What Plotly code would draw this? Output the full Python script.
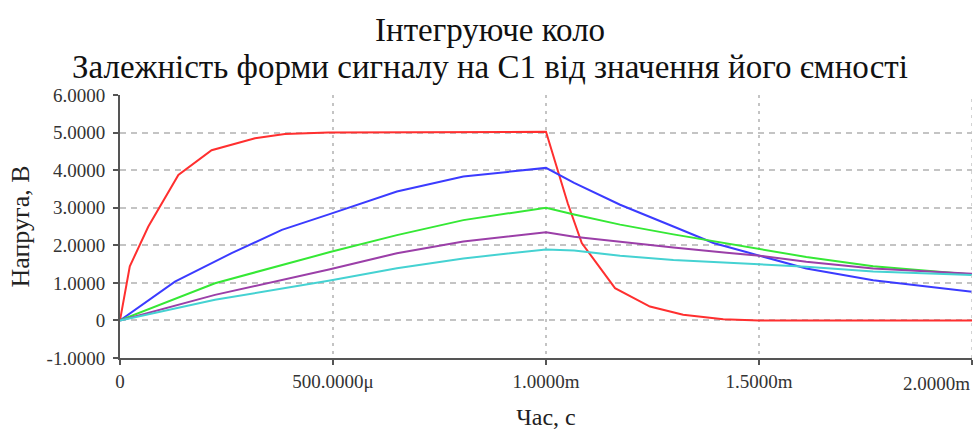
import plotly.graph_objects as go

# Time points (ms) and capacitor voltage (V) for each capacitance value
t_red = [0, 0.023, 0.0665, 0.137, 0.215, 0.317, 0.387, 0.489, 1.0, 1.02, 1.051, 1.084, 1.162, 1.244, 1.322, 1.416, 1.5, 2.0]
v_red = [0, 1.44, 2.5, 3.87, 4.53, 4.85, 4.96, 5.0, 5.02, 4.27, 3.12, 2.06, 0.86, 0.37, 0.15, 0.03, 0.0, 0.0]

t_blue = [0, 0.129, 0.262, 0.38, 0.492, 0.65, 0.806, 1.0, 1.066, 1.174, 1.299, 1.393, 1.47, 1.611, 1.768, 2.0]
v_blue = [0, 1.03, 1.79, 2.41, 2.83, 3.43, 3.83, 4.06, 3.66, 3.08, 2.5, 2.06, 1.82, 1.38, 1.07, 0.76]

t_slow = [0, 0.223, 0.493, 0.65, 0.806, 1.0, 1.066, 1.174, 1.299, 1.424, 1.502, 1.611, 1.768, 2.0]
v_green = [0, 0.99, 1.82, 2.27, 2.67, 3.0, 2.82, 2.55, 2.29, 2.05, 1.91, 1.69, 1.44, 1.22]
v_purple = [0, 0.68, 1.36, 1.79, 2.1, 2.35, 2.23, 2.09, 1.94, 1.8, 1.72, 1.56, 1.38, 1.24]
v_cyan = [0, 0.55, 1.06, 1.39, 1.65, 1.89, 1.86, 1.72, 1.61, 1.53, 1.49, 1.43, 1.3, 1.21]

x_ticks = [0, 0.5, 1.0, 1.5, 2.0]
x_labels = ["0", "500.0000\u03bc", "1.0000m", "1.5000m", "2.0000m"]
y_ticks = [-1, 0, 1, 2, 3, 4, 5, 6]
y_labels = ["-1.0000", "0", "1.0000", "2.0000", "3.0000", "4.0000", "5.0000", "6.0000"]

title_lines = ["Інтегруюче коло", "Залежність форми сигналу на С1 від значення його ємності"]

series = [
    (t_red, v_red, "#ff2f2f"),
    (t_blue, v_blue, "#3b3bff"),
    (t_slow, v_green, "#35e835"),
    (t_slow, v_purple, "#9b3fa8"),
    (t_slow, v_cyan, "#45d2d2"),
]

fig = go.Figure()
for t, v, c in series:
    fig.add_trace(go.Scatter(x=t, y=v, mode="lines", line=dict(color=c, width=2), showlegend=False))

serif = "Liberation Serif"
grid = "#c4c4c4"
axis_col = "#555555"
tick_font = dict(family=serif, size=19, color="#333333")

# x labels: the last one is right-aligned at the plot edge
fig.update_layout(
    width=979, height=430,
    margin=dict(l=120, r=7, t=95, b=72),
    paper_bgcolor="white", plot_bgcolor="white",
    xaxis=dict(
        range=[0, 2.0], tickvals=x_ticks, ticktext=x_labels[:-1] + [""],
        automargin=False,
        showgrid=True, gridcolor=grid, gridwidth=1.5, griddash="3px,5px",
        showline=True, linecolor=axis_col, linewidth=2,
        ticks="outside", ticklen=5, tickcolor=axis_col, tickwidth=2,
        tickfont=tick_font,
        title=dict(text="Час, с", font=dict(family=serif, size=24, color="#222222"), standoff=22),
        zeroline=False,
    ),
    yaxis=dict(
        range=[-1, 6], tickvals=y_ticks, ticktext=y_labels,
        automargin=False,
        showgrid=True, gridcolor=grid, gridwidth=1.5, griddash="6px,5px",
        showline=True, linecolor=axis_col, linewidth=2,
        ticks="outside", ticklen=5, tickcolor=axis_col, tickwidth=2,
        ticklabelstandoff=4,
        tickfont=tick_font,
        title=dict(text="Напруга, В", font=dict(family=serif, size=26, color="#222222"), standoff=10),
        zeroline=False,
    ),
)

# vertical grid line at the right edge of the plot
fig.add_shape(type="line", xref="x", yref="paper", x0=2.0, x1=2.0, y0=0, y1=1,
              line=dict(color=grid, width=1.5, dash="3px,5px"))
fig.add_annotation(x=2.0, xref="x", y=0, yref="paper", yshift=-13, text=x_labels[-1],
                   showarrow=False, xanchor="right", yanchor="top",
                   font=tick_font)

# two-line heading
for txt, ypos in zip(title_lines, [1.247, 1.106]):
    fig.add_annotation(x=0.434, xref="paper", y=ypos, yref="paper", text=txt,
                       showarrow=False, xanchor="center", yanchor="middle",
                       font=dict(family=serif, size=33, color="#111111"))

fig.write_html("out.html")
